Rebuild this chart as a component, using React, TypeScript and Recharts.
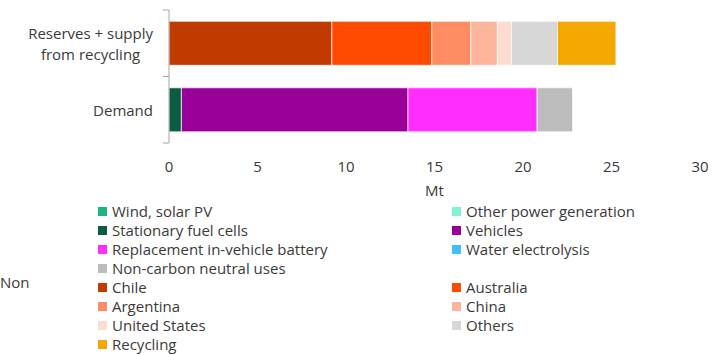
import React from 'react';
import { BarChart, Bar, XAxis, YAxis, Legend } from 'recharts';

// ---- Data ----
const categories = ['Reserves + supply\nfrom recycling', 'Demand'];

// Demand-side series (values: [reserves row, demand row]) in Mt
const windSolarPV = [0, 0];
const otherPowerGeneration = [0, 0];
const stationaryFuelCells = [0, 0.7];
const vehicles = [0, 12.8];
const replacementBattery = [0, 7.3];
const waterElectrolysis = [0, 0];
const nonCarbonNeutral = [0, 2.0];

// Supply-side series
const chile = [9.2, 0];
const australia = [5.65, 0];
const argentina = [2.2, 0];
const china = [1.5, 0];
const unitedStates = [0.8, 0];
const others = [2.6, 0];
const recycling = [3.3, 0];

const xTicks = [0, 5, 10, 15, 20, 25, 30];
const xAxisLabel = 'Mt';

const demandSeries = [
  { key: 'wind', name: 'Wind, solar PV', values: windSolarPV, color: '#1fb383' },
  { key: 'otherPower', name: 'Other power generation', values: otherPowerGeneration, color: '#7ff3d3' },
  { key: 'fuelCells', name: 'Stationary fuel cells', values: stationaryFuelCells, color: '#0c5c40' },
  { key: 'vehicles', name: 'Vehicles', values: vehicles, color: '#990099' },
  { key: 'replacement', name: 'Replacement in-vehicle battery', values: replacementBattery, color: '#ff2eff' },
  { key: 'electrolysis', name: 'Water electrolysis', values: waterElectrolysis, color: '#41c0ff' },
  { key: 'nonCarbon', name: 'Non-carbon neutral uses', values: nonCarbonNeutral, color: '#bcbcbc' },
];
const supplySeries = [
  { key: 'chile', name: 'Chile', values: chile, color: '#c13a00' },
  { key: 'australia', name: 'Australia', values: australia, color: '#ff4b00' },
  { key: 'argentina', name: 'Argentina', values: argentina, color: '#ff8c62' },
  { key: 'china', name: 'China', values: china, color: '#ffb59b' },
  { key: 'us', name: 'United States', values: unitedStates, color: '#ffdcd0' },
  { key: 'others', name: 'Others', values: others, color: '#d7d7d7' },
  { key: 'recycling', name: 'Recycling', values: recycling, color: '#f5a900' },
];
const allSeries = [...demandSeries, ...supplySeries];

const tableData = categories.map((cat, i) => {
  const row: Record<string, any> = { category: cat };
  allSeries.forEach((s) => {
    row[s.key] = s.values[i];
  });
  return row;
});

// ---- Layout ----
const CW = 724;
const CH = 355;
const MARGIN = { top: 10, right: 24, left: 0, bottom: 152 };
const Y_AXIS_W = 169;
const X_AXIS_H = 60;
const PLOT_H = CH - MARGIN.top - MARGIN.bottom - X_AXIS_H;
const FONT = '"Open Sans", "Noto Sans", sans-serif';
const FONT_SIZE = 15;
const TEXT_COLOR = '#3a3a3a';
const AXIS_COLOR = '#a6a6a6';

let measureCtx: CanvasRenderingContext2D | null = null;
const measure = (t: string) => {
  if (typeof document === 'undefined') return t.length * 7.5;
  if (!measureCtx) measureCtx = document.createElement('canvas').getContext('2d');
  if (!measureCtx) return t.length * 7.5;
  measureCtx.font = `${FONT_SIZE}px "Open Sans"`;
  return measureCtx.measureText(t).width;
};

const CategoryTick = (props: any) => {
  const { x, y, payload, index } = props;
  const lines = String(payload.value).split('\n');
  const maxW = Math.max(...lines.map(measure));
  const cx = x - maxW / 2;
  const lineH = 21;
  const startY = y - ((lines.length - 1) * lineH) / 2;
  const half = PLOT_H / (2 * categories.length);
  const axisX = x + 16;
  return (
    <g>
      <text
        x={cx}
        y={startY}
        textAnchor="middle"
        dominantBaseline="central"
        fontFamily={FONT}
        fontSize={FONT_SIZE}
        fill={TEXT_COLOR}
      >
        {lines.map((l, i) => (
          <tspan key={i} x={cx} y={startY + i * lineH} dominantBaseline="central">
            {l}
          </tspan>
        ))}
      </text>
      <line x1={axisX - 6} x2={axisX} y1={y - half} y2={y - half} stroke={AXIS_COLOR} strokeWidth={1} />
      {index === categories.length - 1 && (
        <line x1={axisX - 6} x2={axisX} y1={y + half} y2={y + half} stroke={AXIS_COLOR} strokeWidth={1} />
      )}
    </g>
  );
};

const legendRows: ({ name: string; color: string } | null)[] = [
  ...demandSeries,
  ...(demandSeries.length % 2 ? [null] : []),
  ...supplySeries,
];

const renderLegend = () => (
  <div
    style={{
      display: 'grid',
      gridTemplateColumns: '354px 260px',
      gridAutoRows: '19px',
      fontFamily: FONT,
      fontSize: FONT_SIZE,
      lineHeight: '19px',
      color: TEXT_COLOR,
    }}
  >
    {legendRows.map((item, i) =>
      item ? (
        <div key={i} style={{ display: 'flex', alignItems: 'center', whiteSpace: 'nowrap' }}>
          <span
            style={{ display: 'inline-block', width: 9, height: 9, background: item.color, marginRight: 5 }}
          />
          <span>{item.name}</span>
        </div>
      ) : (
        <div key={i} />
      )
    )}
  </div>
);

export default function App() {
  return (
    <div style={{ position: 'absolute', left: 0, top: 0, width: CW, height: CH, background: '#fff' }}>
      <BarChart
        width={CW}
        height={CH}
        data={tableData}
        layout="vertical"
        margin={MARGIN}
        barCategoryGap="17%"
      >
        <XAxis
          type="number"
          domain={[0, 30]}
          ticks={xTicks}
          axisLine={false}
          tickLine={false}
          tickSize={0}
          tickMargin={18}
          height={X_AXIS_H}
          tick={{ fontFamily: FONT, fontSize: FONT_SIZE, fill: TEXT_COLOR }}
          label={{
            value: xAxisLabel,
            position: 'insideTop',
            offset: 42,
            style: { fontFamily: FONT, fontSize: FONT_SIZE, fill: TEXT_COLOR },
          }}
        />
        <YAxis
          type="category"
          dataKey="category"
          width={Y_AXIS_W}
          axisLine={{ stroke: AXIS_COLOR }}
          tickLine={false}
          tickSize={6}
          tickMargin={10}
          tick={<CategoryTick />}
          interval={0}
        />
        <Legend
          layout="horizontal"
          verticalAlign="middle"
          align="center"
          wrapperStyle={{ left: 98, top: 202, width: 620 }}
          content={renderLegend}
        />
        {allSeries.map((s) => (
          <Bar
            key={s.key}
            dataKey={s.key}
            name={s.name}
            stackId="a"
            fill={s.color}
            stroke="#ffffff"
            strokeWidth={0.7}
            isAnimationActive={false}
          />
        ))}
      </BarChart>
      <div
        style={{
          position: 'absolute',
          left: 0,
          top: 272,
          fontFamily: FONT,
          fontSize: FONT_SIZE,
          color: TEXT_COLOR,
        }}
      >
        Non
      </div>
    </div>
  );
}
